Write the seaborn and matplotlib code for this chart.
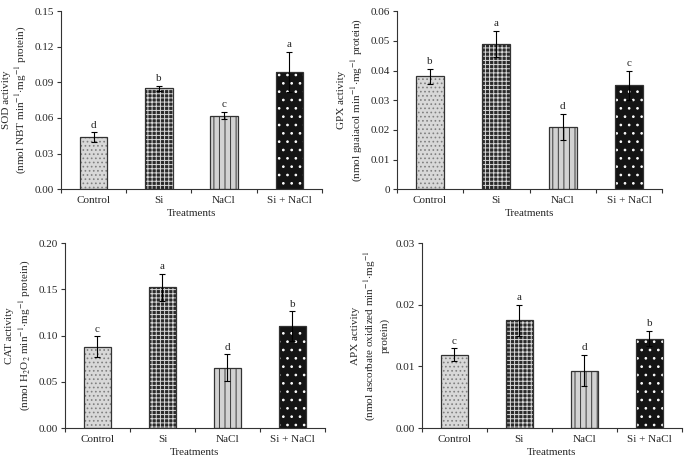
import matplotlib
matplotlib.use("Agg")
import matplotlib.pyplot as plt
from matplotlib.patches import Rectangle
import seaborn as sns
import pandas as pd

# data
treatments = ["Control", "Si", "NaCl", "Si + NaCl"]

sod = [0.044, 0.085, 0.062, 0.099]
sod_err = [0.004, 0.002, 0.003, 0.017]
sod_letters = ["d", "b", "c", "a"]

gpx = [0.038, 0.049, 0.021, 0.035]
gpx_err = [0.0026, 0.0043, 0.0043, 0.005]
gpx_letters = ["b", "a", "d", "c"]

cat = [0.088, 0.152, 0.065, 0.110]
cat_err = [0.011, 0.015, 0.0145, 0.016]
cat_letters = ["c", "a", "d", "b"]

apx = [0.0119, 0.0175, 0.0093, 0.0145]
apx_err = [0.001, 0.0025, 0.0025, 0.0012]
apx_letters = ["c", "a", "d", "b"]

sod_ticks = ["0.00", "0.03", "0.06", "0.09", "0.12", "0.15"]
gpx_ticks = ["0", "0.01", "0.02", "0.03", "0.04", "0.05", "0.06"]
cat_ticks = ["0.00", "0.05", "0.10", "0.15", "0.20"]
apx_ticks = ["0.00", "0.01", "0.02", "0.03"]

# bar styling per treatment
faces = ["#d8d8d8", "#2a2a2a", "#d2d2d2", "#141414"]
hatches = ["....", "++++", "|||", ".."]
hatch_cols = ["#808080", "#d8d8d8", "#3a3a3a", "#ffffff"]

sns.set_theme(style="ticks")
plt.rcParams["font.family"] = ["Liberation Serif", "DejaVu Serif"]
plt.rcParams["mathtext.fontset"] = "stix"
plt.rcParams["hatch.linewidth"] = 0.7
plt.rcParams["axes.edgecolor"] = "#333333"
plt.rcParams["axes.linewidth"] = 0.8

fig = plt.figure(figsize=(6.95, 4.66), dpi=100)


def panel(rect, vals, errs, letters, ticks, ylabel):
    ax = fig.add_axes(rect)
    df = pd.DataFrame({"treatment": treatments, "value": vals})
    sns.barplot(data=df, x="treatment", y="value", ax=ax, width=0.42,
                errorbar=None, color="white")
    for p, fc, h, hc in zip(ax.patches, faces, hatches, hatch_cols):
        p.set_facecolor(fc)
        p.set_hatch(h)
        p.set_edgecolor(hc)
        p.set_linewidth(0)
        ax.add_patch(Rectangle(p.get_xy(), p.get_width(), p.get_height(),
                               fill=False, edgecolor="#333333", lw=0.9))
    ax.errorbar(range(len(vals)), vals, yerr=errs, fmt="none", ecolor="black",
                elinewidth=0.8, capsize=2.5, capthick=0.8)
    top = float(ticks[-1])
    for i, (v, e, l) in enumerate(zip(vals, errs, letters)):
        ax.text(i, v + e + top * 0.015, l, ha="center", va="bottom", fontsize=8)
    ax.set_ylim(0, top)
    ax.set_yticks([float(t) for t in ticks])
    ax.set_yticklabels(ticks, fontsize=8)
    ax.set_xlim(-0.5, 3.5)
    ax.set_xticks(range(4))
    ax.set_xticklabels(treatments, fontsize=8)
    ax.set_xticks([-0.5, 0.5, 1.5, 2.5, 3.5], minor=True)
    ax.tick_params(axis="x", which="major", length=0, pad=5)
    ax.tick_params(axis="x", which="minor", length=3, width=0.8, color="#333333")
    ax.tick_params(axis="y", length=3, width=0.8, color="#333333", pad=2)
    ax.set_xlabel("Treatments", fontsize=8, labelpad=3)
    ax.set_ylabel(ylabel, fontsize=8, labelpad=4, linespacing=1.3)
    sns.despine(ax=ax)
    return ax


panel([0.088, 0.594, 0.375, 0.382], sod, sod_err, sod_letters, sod_ticks,
      "SOD activity\n(nmol NBT min$^{-1}$$\\cdot$mg$^{-1}$ protein)")
panel([0.571, 0.594, 0.382, 0.382], gpx, gpx_err, gpx_letters, gpx_ticks,
      "GPX activity\n(nmol guaiacol min$^{-1}$$\\cdot$mg$^{-1}$ protein)")
panel([0.0935, 0.0815, 0.374, 0.397], cat, cat_err, cat_letters, cat_ticks,
      "CAT activity\n(nmol H$_2$O$_2$ min$^{-1}$$\\cdot$mg$^{-1}$ protein)")
panel([0.607, 0.0815, 0.374, 0.397], apx, apx_err, apx_letters, apx_ticks,
      "APX activity\n(nmol ascorbate oxidized min$^{-1}$$\\cdot$mg$^{-1}$\nprotein)")

fig.savefig("out.png", dpi=100, facecolor="white")
